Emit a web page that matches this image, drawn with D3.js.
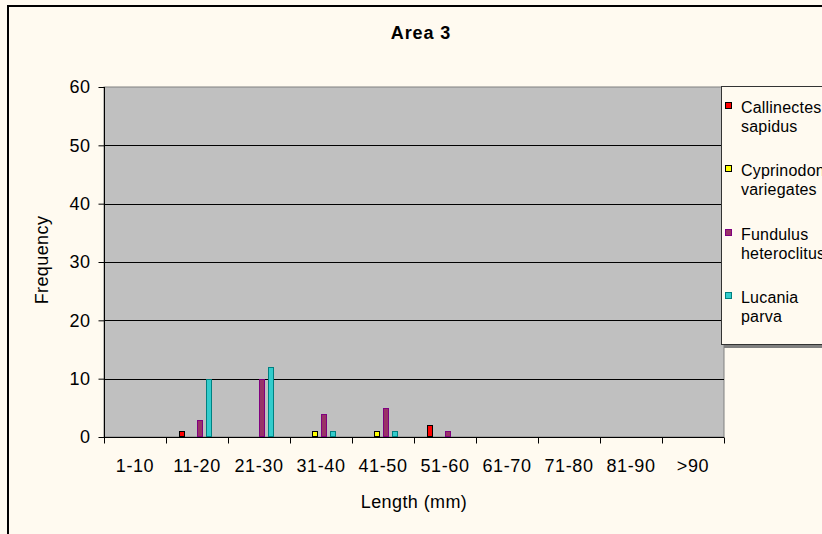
<!DOCTYPE html>
<html>
<head>
<meta charset="utf-8">
<script src="https://cdn.jsdelivr.net/npm/d3@7"></script>
<style>
  html, body { margin: 0; padding: 0; background: #FFFAF0; }
  svg { display: block; font-family: "Liberation Sans", Arial, sans-serif; }
</style>
</head>
<body>
<svg id="chart" width="822" height="534"></svg>
<script>
// Length classes (mm)
const categories = ["1-10", "11-20", "21-30", "31-40", "41-50", "51-60", "61-70", "71-80", "81-90", ">90"];

// Species and their frequency per length class
const seriesNames = ["Callinectes sapidus", "Cyprinodon variegates", "Fundulus heteroclitus", "Lucania parva"];
const callinectes = [0, 1, 0, 0, 0, 2, 0, 0, 0, 0];
const cyprinodon  = [0, 0, 0, 1, 1, 0, 0, 0, 0, 0];
const fundulus    = [0, 3, 10, 4, 5, 1, 0, 0, 0, 0];
const lucania     = [0, 10, 12, 1, 1, 0, 0, 0, 0, 0];
const seriesValues = [callinectes, cyprinodon, fundulus, lucania];

// Legend labels split over two lines
const legendLines = [["Callinectes", "sapidus"], ["Cyprinodon", "variegates"], ["Fundulus", "heteroclitus"], ["Lucania", "parva"]];

const yTicks = [0, 10, 20, 30, 40, 50, 60];

const fills   = ["#FF0000", "#FFFF00", "#993366", "#33CCCC"];
const strokes = ["#000000", "#000000", "#800080", "#008080"];

const svg = d3.select("#chart");

// Chart frame
svg.append("rect")
  .attr("x", 8).attr("y", 6)
  .attr("width", 900).attr("height", 600)
  .attr("fill", "#FFFAF0")
  .attr("stroke", "#000").attr("stroke-width", 2);

const plot = { left: 104, right: 724, top: 87, bottom: 437 };

const x = d3.scaleBand().domain(categories).range([plot.left, plot.right]).padding(0);
const xInner = d3.scaleBand().domain(seriesNames)
  .range([x.bandwidth() * 0.21, x.bandwidth() * 0.75]).paddingInner(0.28).paddingOuter(0);
const y = d3.scaleLinear().domain([0, 60]).range([plot.bottom, plot.top]);

// Plot area
svg.append("rect")
  .attr("x", plot.left).attr("y", plot.top)
  .attr("width", plot.right - plot.left).attr("height", plot.bottom - plot.top)
  .attr("fill", "#C0C0C0")
  .attr("stroke", "#808080").attr("stroke-width", 1);

// Horizontal gridlines
svg.append("g").selectAll("line")
  .data(yTicks.filter(t => t > 0 && t < 60))
  .join("line")
  .attr("x1", plot.left).attr("x2", plot.right)
  .attr("y1", d => Math.round(y(d)) + 0.5).attr("y2", d => Math.round(y(d)) + 0.5)
  .attr("stroke", "#000").attr("stroke-width", 1);

// Bars
const barGroups = svg.append("g").selectAll("g")
  .data(seriesNames)
  .join("g")
  .attr("fill", (d, i) => fills[i])
  .attr("stroke", (d, i) => strokes[i]);

barGroups.each(function(name, si) {
  d3.select(this).selectAll("rect")
    .data(seriesValues[si].map((v, ci) => ({ v, cat: categories[ci] })).filter(d => d.v > 0))
    .join("rect")
    .attr("x", d => Math.round(x(d.cat) + xInner(name)) + 0.5)
    .attr("y", d => Math.round(y(d.v)) + 0.5)
    .attr("width", Math.round(xInner.bandwidth()) - 1)
    .attr("height", d => Math.round(y(0)) - Math.round(y(d.v)) - 1)
    .attr("stroke-width", 1);
});

// Y axis
const yAxis = d3.axisLeft(y).tickValues(yTicks).tickSize(6).tickPadding(8);
const gy = svg.append("g")
  .attr("transform", `translate(${plot.left + 0.5},0)`)
  .call(yAxis);
gy.select(".domain").attr("stroke", "#000").attr("d", `M0,${plot.top}V${plot.bottom}`);
gy.selectAll(".tick line").attr("stroke", "#000");
gy.selectAll(".tick text")
  .attr("font-size", 18).attr("fill", "#000")
  .attr("font-family", "Liberation Sans, Arial, sans-serif")
  .attr("letter-spacing", "0.5px")
  .attr("dy", "0.33em");

// X axis: ticks on category boundaries
const gx = svg.append("g").attr("transform", `translate(0,${plot.bottom + 0.5})`);
gx.append("line")
  .attr("x1", plot.left).attr("x2", plot.right)
  .attr("stroke", "#000");
gx.selectAll("line.tick")
  .data(categories.concat([null]))
  .join("line")
  .attr("class", "tick")
  .attr("x1", (d, i) => Math.round(i < categories.length ? x(d) : plot.right) + 0.5)
  .attr("x2", (d, i) => Math.round(i < categories.length ? x(d) : plot.right) + 0.5)
  .attr("y1", 0).attr("y2", 6)
  .attr("stroke", "#000");
gx.selectAll("text")
  .data(categories)
  .join("text")
  .attr("x", d => x(d) + x.bandwidth() / 2)
  .attr("y", 34)
  .attr("text-anchor", "middle")
  .attr("font-size", 18)
  .attr("letter-spacing", "0.6px")
  .attr("fill", "#000")
  .text(d => d);

// Titles
svg.append("text")
  .attr("x", 421).attr("y", 39)
  .attr("text-anchor", "middle")
  .attr("font-size", 18).attr("font-weight", "bold")
  .attr("letter-spacing", "0.9px")
  .text("Area 3");

svg.append("text")
  .attr("x", 414).attr("y", 508)
  .attr("text-anchor", "middle")
  .attr("font-size", 18)
  .attr("letter-spacing", "0.4px")
  .text("Length (mm)");

svg.append("text")
  .attr("transform", "translate(48,260) rotate(-90)")
  .attr("text-anchor", "middle")
  .attr("font-size", 18)
  .attr("letter-spacing", "0.4px")
  .text("Frequency");

// Legend
const legend = svg.append("g");
legend.append("rect")
  .attr("x", 724).attr("y", 89).attr("width", 200).attr("height", 259)
  .attr("fill", "#808080");
legend.append("rect")
  .attr("x", 721.5).attr("y", 86.5).attr("width", 200).attr("height", 258)
  .attr("fill", "#FFFAF0").attr("stroke", "#333").attr("stroke-width", 1);

const ly = d3.scalePoint().domain(seriesNames).range([113, 303]);
const items = legend.selectAll("g.item")
  .data(seriesNames)
  .join("g")
  .attr("class", "item");
items.append("rect")
  .attr("x", 725.5)
  .attr("y", d => Math.round(ly(d)) - 10.5)
  .attr("width", 6).attr("height", 6)
  .attr("fill", (d, i) => fills[i])
  .attr("stroke", (d, i) => strokes[i]);
items.append("text")
  .attr("x", 741)
  .attr("y", d => ly(d))
  .attr("font-size", 16)
  .attr("letter-spacing", "0.2px")
  .attr("fill", "#000")
  .selectAll("tspan")
  .data((d, i) => legendLines[i])
  .join("tspan")
  .attr("x", 741)
  .attr("dy", (d, i) => i === 0 ? 0 : 19)
  .text(d => d);
</script>
</body>
</html>
